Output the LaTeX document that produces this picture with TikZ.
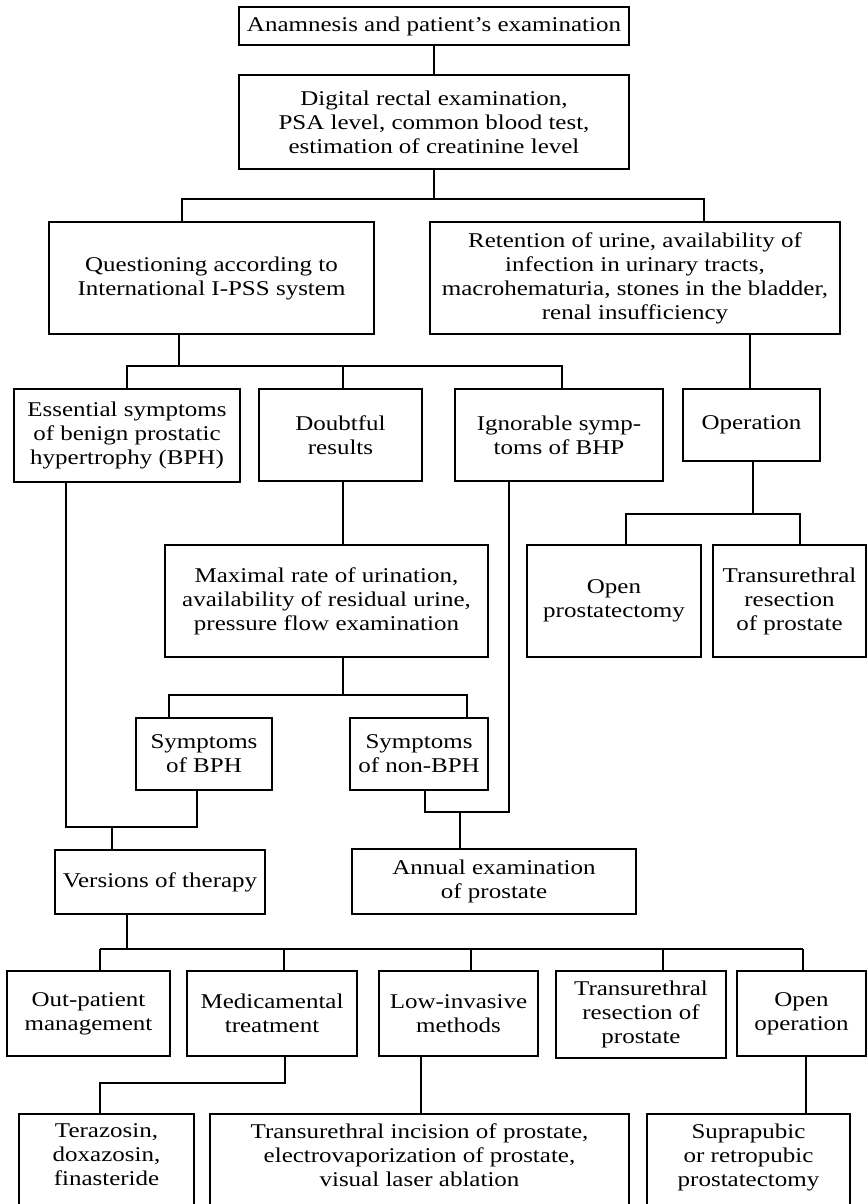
\documentclass[tikz,border=0pt]{standalone}
\usepackage{fontspec}
\setmainfont{Liberation Serif}[FakeStretch=1.19]
\tikzset{
  box/.style 2 args={draw, align=center, inner sep=0pt, minimum width=#1, minimum height=#2}
}
% extra room under the text of the boxes cut by the page edge
\newcommand{\lowpad}{\\[-6pt]\mbox{}}

\begin{document}
\begin{tikzpicture}[x=1pt, y=-1pt, line width=1.1pt, font=\fontsize{21}{24}\selectfont]
    \useasboundingbox (0,0) rectangle (867,1204);
    \clip (0,0) rectangle (867,1204);
    %% Examination
    \node[box={390pt}{38pt}] (anamnesis) at (434,26) {Anamnesis and patient’s examination};
    \node[box={390pt}{94pt}] (digital) at (434,122) {Digital rectal examination,\\PSA level, common blood test,\\estimation of creatinine level};
    \node[box={325pt}{112pt}] (questioning) at (211.5,278) {Questioning according to\\International I-PSS system};
    \node[box={410pt}{112pt}] (retention) at (635,278) {Retention of urine, availability of\\infection in urinary tracts,\\macrohematuria, stones in the bladder,\\renal insufficiency};
    %% Results of questioning
    \node[box={226pt}{93pt}] (essential) at (127,435.5) {Essential symptoms\\of benign prostatic\\hypertrophy (BPH)};
    \node[box={163pt}{92pt}] (doubtful) at (340.5,435) {Doubtful\\results};
    \node[box={208pt}{92pt}] (ignorable) at (559,435) {Ignorable symp-\\toms of BHP};
    \node[box={137pt}{72pt}] (operation) at (751.5,425) {Operation};
    \node[box={323pt}{112pt}] (maximal) at (326.5,601) {Maximal rate of urination,\\availability of residual urine,\\pressure flow examination};
    \node[box={174pt}{112pt}] (openpr) at (614,601) {Open\\prostatectomy};
    \node[box={153pt}{112pt}] (turp) at (789.5,601) {Transurethral\\resection\\of prostate};
    \node[box={136pt}{72pt}] (sympbph) at (204,754) {Symptoms\\of BPH};
    \node[box={138pt}{72pt}] (sympnon) at (419,754) {Symptoms\\of non-BPH};
    \node[box={210pt}{64pt}] (versions) at (160,882) {Versions of therapy};
    \node[box={284pt}{65pt}] (annual) at (494,881.5) {Annual examination\\of prostate};
    %% Versions of therapy
    \node[box={163pt}{85pt}] (outpatient) at (88.5,1013.5) {Out-patient\\management};
    \node[box={170pt}{85pt}] (medic) at (272,1013.5) {Medicamental\\treatment};
    \node[box={159pt}{85pt}] (lowinv) at (458.5,1013.5) {Low-invasive\\methods};
    \node[box={170pt}{87pt}] (turprost) at (641,1014.5) {Transurethral\\resection of\\prostate};
    \node[box={129pt}{85pt}] (openop) at (801.5,1013.5) {Open\\operation};
    \node[box={175pt}{100pt}] (terazosin) at (106.5,1164) {Terazosin,\\doxazosin,\\finasteride\lowpad};
    \node[box={419pt}{100pt}] (incision) at (419.5,1164) {Transurethral incision of prostate,\\electrovaporization of prostate,\\visual laser ablation\lowpad};
    \node[box={203pt}{100pt}] (suprapubic) at (748.5,1164) {Suprapubic\\or retropubic\\prostatectomy\lowpad};
    %% Connecting lines
    \draw (anamnesis) -- (digital);
    \draw (digital.south) -- (434,199);
    \draw (questioning.north -| 182,0) |- (704,199) -- (retention.north -| 704,0);
    \draw (questioning.south -| 179,0) -- (179,366);
    \draw (essential.north) |- (562,366) -- (ignorable.north -| 562,0);
    \draw (doubtful.north -| 343,0) -- (343,366);
    \draw (operation.north -| 750,0) -- (retention.south -| 750,0);
    \draw (operation.south -| 753,0) -- (753,514);
    \draw (openpr.north -| 626,0) |- (800,514) -- (turp.north -| 800,0);
    \draw (doubtful.south -| 343,0) -- (maximal.north -| 343,0);
    \draw (maximal.south -| 343,0) -- (343,695);
    \draw (sympbph.north -| 169,0) |- (467,695) -- (sympnon.north -| 467,0);
    \draw (essential.south -| 66,0) -- (66,827) -| (sympbph.south -| 197,0);
    \draw (112,827) -- (versions.north -| 112,0);
    \draw (ignorable.south -| 509,0) -- (509,812) -| (sympnon.south -| 425,0);
    \draw (460,812) -- (annual.north -| 460,0);
    \draw (versions.south -| 127,0) -- (127,949);
    \draw (100,949) -- (803,949);
    \foreach \n/\x in {outpatient/100, medic/284, lowinv/471, turprost/663, openop/803}
        \draw (\n.north -| \x,0) -- (\x,949);
    \draw (medic.south -| 285,0) -- (285,1083) -| (terazosin.north -| 100,0);
    \draw (lowinv.south -| 421,0) -- (incision.north -| 421,0);
    \draw (openop.south -| 806,0) -- (suprapubic.north -| 806,0);
\end{tikzpicture}
\end{document}
